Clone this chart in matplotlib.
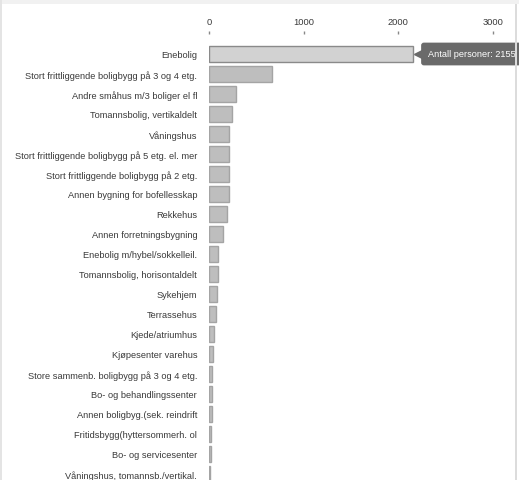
import numpy as np
import matplotlib.pyplot as plt
from matplotlib.patches import Rectangle
from matplotlib.transforms import offset_copy

plt.rcParams['font.family'] = ['Liberation Sans', 'DejaVu Sans']

categories = [
    "Enebolig",
    "Stort frittliggende boligbygg på 3 og 4 etg.",
    "Andre småhus m/3 boliger el fl",
    "Tomannsbolig, vertikaldelt",
    "Våningshus",
    "Stort frittliggende boligbygg på 5 etg. el. mer",
    "Stort frittliggende boligbygg på 2 etg.",
    "Annen bygning for bofellesskap",
    "Rekkehus",
    "Annen forretningsbygning",
    "Enebolig m/hybel/sokkelleil.",
    "Tomannsbolig, horisontaldelt",
    "Sykehjem",
    "Terrassehus",
    "Kjede/atriumhus",
    "Kjøpesenter varehus",
    "Store sammenb. boligbygg på 3 og 4 etg.",
    "Bo- og behandlingssenter",
    "Annen boligbyg.(sek. reindrift",
    "Fritidsbygg(hyttersommerh. ol",
    "Bo- og servicesenter",
    "Våningshus, tomannsb./vertikal.",
]
persons = [2155, 667, 283, 244, 215, 212, 212, 208, 190, 152, 99, 92, 88, 71,
           57, 46, 35, 32, 28, 22, 18, 15]
xticks = [0, 1000, 2000, 3000]
tooltip_label = "Antall personer"

W, H = 519, 481
fig = plt.figure(figsize=(W / 100, H / 100), dpi=100)

# frame around the widget
fig.patches.append(Rectangle((0, 1 - 5 / H), 1, 5 / H, transform=fig.transFigure,
                             fc='#f1f1f1', ec='none', zorder=0))
fig.patches.append(Rectangle((0, 0), 1.5 / W, 1, transform=fig.transFigure,
                             fc='#e4e4e4', ec='none', zorder=0))
fig.patches.append(Rectangle((515 / W, 0), 2 / W, 1 - 5 / H, transform=fig.transFigure,
                             fc='#dcdcdc', ec='none', zorder=0))

# axes placement in pixels
x0_px, x1_px = 209, 505
top_px = 35
px_per_unit = (493 - 209) / 3000
ax = fig.add_axes([x0_px / W, 0, (x1_px - x0_px) / W, (H - top_px) / H])
ax.set_facecolor('none')
ax.set_xlim(0, (x1_px - x0_px) / px_per_unit)
row0 = (55 - top_px) / 20
ax.set_ylim((H - top_px) / 20 - row0, -row0)

y = np.arange(len(categories))
colors = ['#d2d2d2'] + ['#bebebe'] * (len(categories) - 1)
edges = ['#8a8a8a'] + ['#a4a4a4'] * (len(categories) - 1)
ax.barh(y, persons, height=0.8, color=colors, edgecolor=edges, linewidth=1.0)

ax.set_yticks(y)
ax.set_yticklabels(categories, fontsize=6.7, color='#3a3a3a')
ax.tick_params(axis='y', length=0, pad=8.5)
ax.xaxis.tick_top()
ax.set_xticks(xticks)
ax.set_xticklabels([str(t) for t in xticks], fontsize=6.7, color='#3a3a3a')
ax.tick_params(axis='x', length=2, width=1, color='#888888', pad=4)
for s in ax.spines.values():
    s.set_visible(False)

# hover tooltip on the first bar
tr = offset_copy(ax.transData, fig=fig, x=5, y=0, units='dots')
ax.plot([persons[0]], [0], marker='<', ms=6, color='#6a6a6a', transform=tr,
        clip_on=False, zorder=5)
tr2 = offset_copy(ax.transData, fig=fig, x=15, y=0, units='dots')
ax.text(persons[0], 0, f"{tooltip_label}: {persons[0]}", transform=tr2,
        fontsize=6.6, color='white', va='center', ha='left', clip_on=False,
        bbox=dict(boxstyle='round,pad=0.75,rounding_size=0.3', fc='#6a6a6a', ec='none'),
        zorder=6)

fig.savefig('out.png', dpi=100)
